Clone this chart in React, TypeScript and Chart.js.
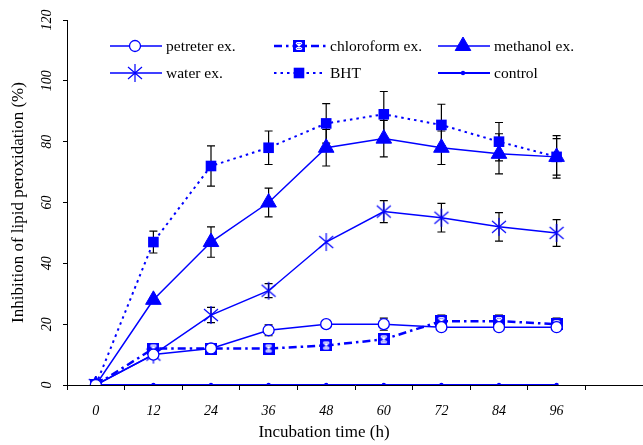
import React, { useEffect, useRef } from 'react';
import { Chart, registerables } from 'chart.js';
import { drawPoint } from 'chart.js/helpers';

Chart.register(...registerables);

const hours = [0, 12, 24, 36, 48, 60, 72, 84, 96];
const yTicks = [0, 20, 40, 60, 80, 100, 120];

const petreter = [0, 10, 12, 18, 20, 20, 19, 19, 19];
const petreterErr = [0, 0, 0, 1.8, 1.2, 2, 0, 0, 0];
const chloroform = [0, 12, 12, 12, 13, 15, 21, 21, 20];
const chloroformErr = [0, 0, 0, 0, 0, 0, 2, 2, 2];
const methanol = [0, 28, 47, 60, 78, 81, 78, 76, 75];
const methanolErr = [0, 0, 5, 4.7, 6, 6, 5.5, 6.6, 7];
const water = [0, 10, 23, 31, 47, 57, 55, 52, 50];
const waterErr = [0, 0, 2.5, 2.3, 0, 3.6, 4.7, 4.7, 4.4];
const bht = [0, 47, 72, 78, 86, 89, 85.5, 80, 75];
const bhtErr = [0, 3.6, 6.6, 5.5, 6.5, 7.5, 6.8, 6.3, 6];
const control = [0, 0, 0, 0, 0, 0, 0, 0, 0];

const seriesNames = ['petreter ex.', 'chloroform ex.', 'methanol ex.', 'water ex.', 'BHT', 'control'];
const xTitle = 'Incubation time (h)';
const yTitle = 'Inhibition of lipid peroxidation (%)';

const BLUE = '#0000ff';
const FONT = '"Liberation Serif", "Times New Roman", serif';

function makeWaterMarker(): HTMLCanvasElement {
  const c = document.createElement('canvas');
  c.width = 18;
  c.height = 20;
  const g = c.getContext('2d')!;
  g.strokeStyle = BLUE;
  g.lineWidth = 1.2;
  g.beginPath();
  g.moveTo(9, 1);
  g.lineTo(9, 19);
  g.moveTo(2, 4);
  g.lineTo(16, 16);
  g.moveTo(16, 4);
  g.lineTo(2, 16);
  g.stroke();
  return c;
}

function makeChloroMarker(): HTMLCanvasElement {
  const c = document.createElement('canvas');
  c.width = 12;
  c.height = 12;
  const g = c.getContext('2d')!;
  g.fillStyle = BLUE;
  g.fillRect(0, 0, 12, 12);
  g.strokeStyle = '#ffffff';
  g.lineWidth = 1.2;
  g.beginPath();
  g.moveTo(6, 2);
  g.lineTo(6, 10);
  g.moveTo(3, 3);
  g.lineTo(9, 9);
  g.moveTo(9, 3);
  g.lineTo(3, 9);
  g.moveTo(3.5, 2.5);
  g.lineTo(8.5, 2.5);
  g.moveTo(3.5, 9.5);
  g.lineTo(8.5, 9.5);
  g.stroke();
  return c;
}

const toPts = (vals: number[]) => hours.map((h, i) => ({ x: h, y: vals[i] }));

export default function App() {
  const ref = useRef<HTMLCanvasElement>(null);

  useEffect(() => {
    if (!ref.current) return;
    const waterMarker = makeWaterMarker();
    const chloroMarker = makeChloroMarker();

    const errSets = [
      { vals: bht, errs: bhtErr },
      { vals: methanol, errs: methanolErr },
      { vals: water, errs: waterErr },
      { vals: petreter, errs: petreterErr },
      { vals: chloroform, errs: chloroformErr },
    ];

    const legendCols = [110, 274, 438];
    const legendRows = [46, 73];

    const decor = {
      id: 'decor',
      beforeDatasetsDraw(chart: any) {
        const { ctx } = chart;
        const x = chart.scales.x;
        const y = chart.scales.y;
        ctx.save();
        ctx.strokeStyle = '#000';
        ctx.lineWidth = 1.2;
        errSets.forEach(({ vals, errs }) => {
          hours.forEach((h, i) => {
            const e = errs[i];
            if (!e) return;
            const px = x.getPixelForValue(h);
            const top = y.getPixelForValue(vals[i] + e);
            const bot = y.getPixelForValue(vals[i] - e);
            ctx.beginPath();
            ctx.moveTo(px, top);
            ctx.lineTo(px, bot);
            ctx.moveTo(px - 4, top);
            ctx.lineTo(px + 4, top);
            ctx.moveTo(px - 4, bot);
            ctx.lineTo(px + 4, bot);
            ctx.stroke();
          });
        });
        ctx.restore();
      },
      afterDraw(chart: any) {
        const { ctx, chartArea } = chart;
        const y = chart.scales.y;
        ctx.save();
        ctx.fillStyle = '#000';
        // y tick labels (rotated)
        ctx.font = `italic 14px ${FONT}`;
        ctx.textAlign = 'center';
        ctx.textBaseline = 'middle';
        yTicks.forEach((v) => {
          const py = y.getPixelForValue(v);
          ctx.save();
          ctx.translate(47, py);
          ctx.rotate(-Math.PI / 2);
          ctx.fillText(String(v), 0, 0);
          ctx.restore();
        });
        // titles
        ctx.font = `17px ${FONT}`;
        ctx.save();
        ctx.translate(19, (chartArea.top + chartArea.bottom) / 2);
        ctx.rotate(-Math.PI / 2);
        ctx.fillText(yTitle, 0, 0);
        ctx.restore();
        ctx.fillText(xTitle, 324, 433);

        // legend
        chart.data.datasets.forEach((ds: any, i: number) => {
          const cx = legendCols[i % 3];
          const cy = legendRows[Math.floor(i / 3)];
          ctx.save();
          ctx.strokeStyle = ds.borderColor;
          ctx.lineWidth = ds.borderWidth;
          ctx.setLineDash(ds.borderDash || []);
          ctx.beginPath();
          ctx.moveTo(cx, cy);
          ctx.lineTo(cx + 52, cy);
          ctx.stroke();
          ctx.setLineDash([]);
          ctx.fillStyle = ds.pointBackgroundColor;
          ctx.strokeStyle = ds.pointBorderColor;
          ctx.lineWidth = ds.pointBorderWidth;
          drawPoint(
            ctx,
            { pointStyle: ds.pointStyle, radius: ds.pointRadius, rotation: 0, borderWidth: ds.pointBorderWidth },
            cx + 25,
            cy
          );
          ctx.restore();
          ctx.fillStyle = '#000';
          ctx.font = `15.5px ${FONT}`;
          ctx.textAlign = 'left';
          ctx.textBaseline = 'middle';
          ctx.fillText(seriesNames[i], cx + 56, cy + 1);
        });
        ctx.restore();
      },
    };

    const chart = new Chart(ref.current, {
      type: 'line',
      data: {
        datasets: [
          {
            label: seriesNames[0],
            data: toPts(petreter),
            borderColor: BLUE,
            borderWidth: 1.5,
            pointStyle: 'circle',
            pointRadius: 5.5,
            pointBackgroundColor: '#ffffff',
            pointBorderColor: BLUE,
            pointBorderWidth: 1.3,
          },
          {
            label: seriesNames[1],
            data: toPts(chloroform),
            borderColor: BLUE,
            borderWidth: 2.5,
            borderDash: [8, 4, 2.5, 4],
            pointStyle: chloroMarker,
            pointRadius: 6,
            pointBackgroundColor: BLUE,
            pointBorderColor: BLUE,
            pointBorderWidth: 0,
          },
          {
            label: seriesNames[2],
            data: toPts(methanol),
            borderColor: BLUE,
            borderWidth: 1.5,
            pointStyle: 'triangle',
            pointRadius: 9,
            pointBackgroundColor: BLUE,
            pointBorderColor: BLUE,
            pointBorderWidth: 1,
          },
          {
            label: seriesNames[3],
            data: toPts(water),
            borderColor: BLUE,
            borderWidth: 1.5,
            pointStyle: waterMarker,
            pointRadius: 8,
            pointBackgroundColor: BLUE,
            pointBorderColor: BLUE,
            pointBorderWidth: 0,
          },
          {
            label: seriesNames[4],
            data: toPts(bht),
            borderColor: BLUE,
            borderWidth: 2,
            borderDash: [2.5, 4],
            pointStyle: 'rect',
            pointRadius: 7.5,
            pointBackgroundColor: BLUE,
            pointBorderColor: BLUE,
            pointBorderWidth: 0,
          },
          {
            label: seriesNames[5],
            data: toPts(control),
            borderColor: BLUE,
            borderWidth: 2,
            pointStyle: 'circle',
            pointRadius: 2.2,
            pointBackgroundColor: BLUE,
            pointBorderColor: BLUE,
            pointBorderWidth: 0,
          },
        ],
      },
      options: {
        responsive: false,
        animation: false,
        devicePixelRatio: 1,
        events: [],
        layout: { autoPadding: false, padding: { top: 20, left: 0, right: 0, bottom: 0 } },
        elements: { line: { tension: 0 } },
        plugins: { legend: { display: false }, tooltip: { enabled: false } },
        scales: {
          x: {
            type: 'linear',
            min: -6,
            max: 114,
            afterBuildTicks: (s: any) => {
              s.ticks = hours.map((v) => ({ value: v }));
            },
            afterFit: (s: any) => {
              s.height = 60;
              s.paddingLeft = 0;
              s.paddingRight = 0;
            },
            grid: {
              offset: true,
              drawOnChartArea: false,
              drawTicks: true,
              tickLength: 5,
              color: '#000',
              lineWidth: 1,
            },
            border: { display: true, color: '#000', width: 1 },
            ticks: {
              font: { family: FONT, size: 14, style: 'italic' },
              color: '#000',
              padding: 13,
              maxRotation: 0,
              autoSkip: false,
            },
          },
          y: {
            type: 'linear',
            min: 0,
            max: 120,
            afterBuildTicks: (s: any) => {
              s.ticks = yTicks.map((v) => ({ value: v }));
            },
            afterFit: (s: any) => {
              s.width = 67;
              s.paddingTop = 0;
              s.paddingBottom = 0;
            },
            grid: {
              drawOnChartArea: false,
              drawTicks: true,
              tickLength: 4,
              color: '#000',
              lineWidth: 1,
            },
            border: { display: true, color: '#000', width: 1 },
            ticks: { display: false },
          },
        },
      },
      plugins: [decor],
    } as any);

    return () => chart.destroy();
  }, []);

  return (
    <div style={{ position: 'fixed', left: 0, top: 0, width: 643, height: 445, background: '#fff' }}>
      <canvas ref={ref} width={643} height={445} />
    </div>
  );
}
